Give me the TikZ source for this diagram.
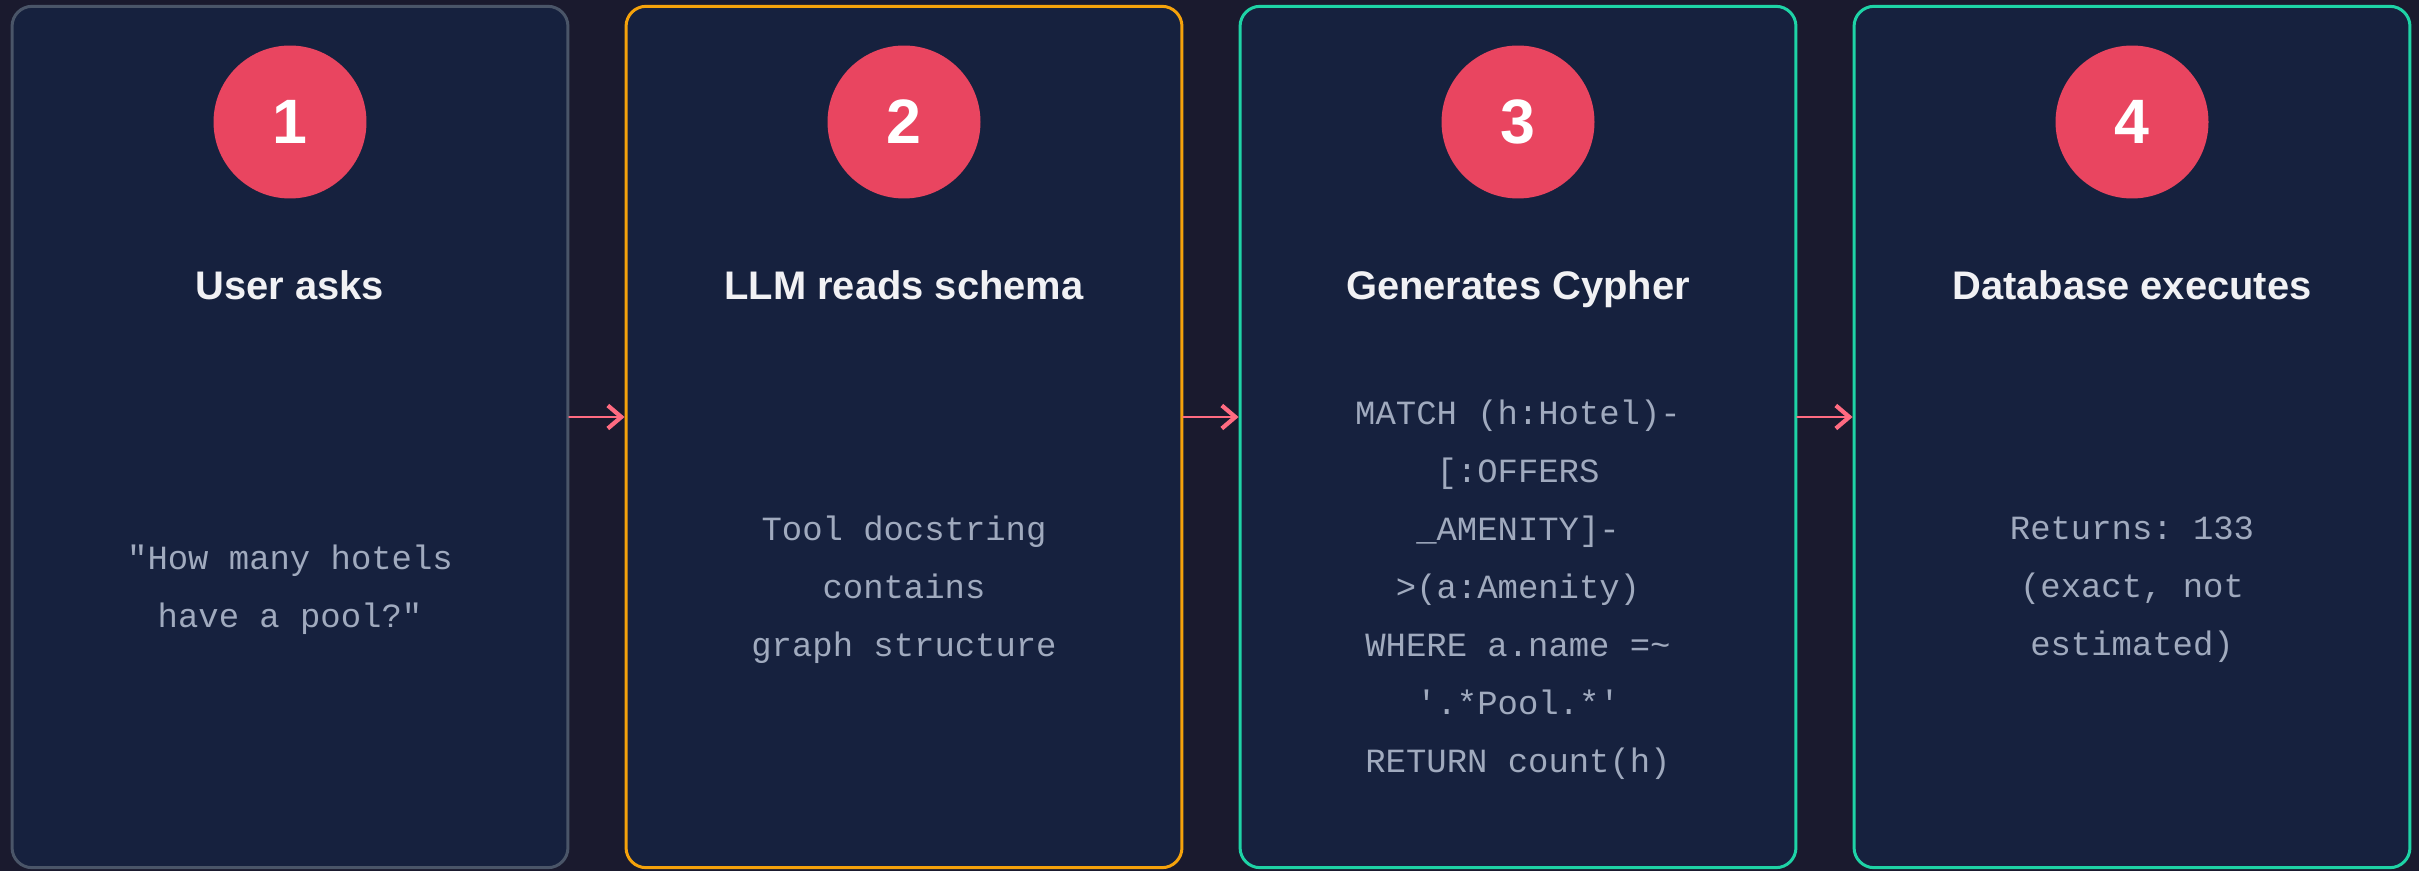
\documentclass[tikz,border=0pt]{standalone}
\usepackage{fontspec}
\setmainfont{Liberation Sans}
\setmonofont{Liberation Mono}
\usetikzlibrary{arrows.meta}

\definecolor{pagebg}{HTML}{1A1A2E}
\definecolor{cardbg}{HTML}{16213E}
\definecolor{badgered}{HTML}{E94560}
\definecolor{edgegray}{HTML}{4A5568}
\definecolor{edgeamber}{HTML}{F5A20B}
\definecolor{edgeteal}{HTML}{1ED3A6}
\definecolor{arrowpink}{HTML}{FF6B81}
\definecolor{titlewhite}{HTML}{F1F1F4}
\definecolor{codegray}{HTML}{A0AABE}

\tikzset{
  card/.style={
    draw,
    line width=1.7pt,
    fill=cardbg,
    rounded corners=0.4cm,
    minimum width=11.12cm,
    minimum height=17.23cm,
    inner sep=0pt
  },
  badge/.style={
    circle,
    fill=badgered,
    minimum size=3.06cm,
    inner sep=0pt,
    text=white,
    font=\fontsize{35.7pt}{36pt}\selectfont\bfseries
  },
  steptitle/.style={
    anchor=base,
    inner sep=0pt,
    text=titlewhite,
    font=\fontsize{22.7pt}{24pt}\selectfont\bfseries
  },
  stepbody/.style={
    align=center,
    inner sep=0pt,
    text=codegray,
    font=\ttfamily\fontsize{19.3pt}{33pt}\selectfont
  },
  flow/.style={
    draw=arrowpink,
    line width=1.7pt,
    -{Straight Barb[length=0.27cm,width=0.46cm,line width=2.4pt]}
  }
}

\begin{document}
\begin{tikzpicture}[
  x=0.02cm,
  y=-0.02cm,
  line cap=round,
  line join=round
]
  % Background
  \fill[pagebg] (0,0) rectangle (2419,871);

  % Cards
  \node[card, draw=edgegray]  (b1) at (290,437) {};
  \node[card, draw=edgeamber] (b2) at (904,437) {};
  \node[card, draw=edgeteal]  (b3) at (1518,437) {};
  \node[card, draw=edgeteal]  (b4) at (2132,437) {};

  % Numbers
  \node[badge] (n1) at (290,122) {1};
  \node[badge] (n2) at (904,122) {2};
  \node[badge] (n3) at (1518,122) {3};
  \node[badge] (n4) at (2132,122) {4};

  % Titles
  \node[steptitle] (t1) at (290,300) {User asks};
  \node[steptitle] (t2) at (904,300) {LLM reads schema};
  \node[steptitle] (t3) at (1518,300) {Generates Cypher};
  \node[steptitle] (t4) at (2132,300) {Database executes};

  % Texts
  \node[stepbody] (d1) at (290,590)
    {"How many hotels\\have a pool?"};
  \node[stepbody] (d2) at (904,590)
    {Tool docstring\\contains\\graph structure};
  \node[stepbody] (d3) at (1518,590)
    {MATCH (h:Hotel)-\\{[}:OFFERS\\\_AMENITY]-\\>(a:Amenity)\\WHERE a.name =\textasciitilde\\'.*Pool.*'\\RETURN count(h)};
  \node[stepbody] (d4) at (2132,590)
    {Returns: 133\\(exact, not\\estimated)};

  % Arrows
  \draw[flow] ([yshift=0.4cm]b1.east) -- ([yshift=0.4cm]b2.west);
  \draw[flow] ([yshift=0.4cm]b2.east) -- ([yshift=0.4cm]b3.west);
  \draw[flow] ([yshift=0.4cm]b3.east) -- ([yshift=0.4cm]b4.west);
\end{tikzpicture}
\end{document}
